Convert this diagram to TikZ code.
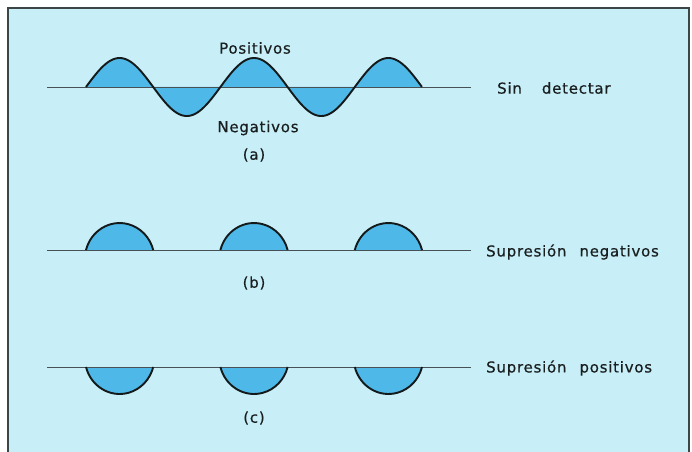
\documentclass[tikz,border=0pt]{standalone}
\usepackage{fontspec}
\setmainfont{DejaVu Sans}[LetterSpace=5,FakeBold=0.5]
\begin{document}
\begin{tikzpicture}[x=1pt,y=-1pt,
  bgcol/.style={fill={rgb,255:red,200;green,238;blue,248}},
  frameline/.style={draw={rgb,255:red,60;green,70;blue,70},line width=1.4pt},
  axisline/.style={draw={rgb,255:red,70;green,80;blue,85},line width=1pt},
  wavefill/.style={fill={rgb,255:red,78;green,184;blue,232}},
  waveline/.style={draw={rgb,255:red,20;green,25;blue,25},line width=1.9pt},
  lbl/.style={inner sep=0pt,text={rgb,255:red,25;green,30;blue,30},font=\fontsize{15}{17}\selectfont}]
\useasboundingbox (0,0) rectangle (692,451);
\begin{scope}
\clip (0,0) rectangle (692,451);
\fill[white] (0,0) rectangle (692,451);
\path[bgcol,frameline] (8,8) rectangle (689,470);
\end{scope}
% (a)
\coordinate (a0) at (47,87);
\coordinate (a1) at (471,87);
\fill[wavefill] plot[domain=0:5,samples=241] ({86+67.2*\x},{87-29*sin(180*\x)}) -- cycle;
\draw[axisline] (a0) -- (a1);
\draw[waveline,line join=round] plot[domain=0:5,samples=241] ({86+67.2*\x},{87-29*sin(180*\x)});
\node[lbl] (pos) at (255,48) {Positivos};
\node[lbl] (neg) at (258,128) {Negativos};
\node[lbl] (la) at (254,155) {(a)};
\node[lbl,anchor=west] (sd) at (497,88) {Sin\hspace{20pt}detectar};
% (b)  dome = ellipse arc cut above its centre
\coordinate (b0) at (47,250);
\coordinate (b1) at (471,250);
\foreach \c in {86,220.4,354.8}{
  \fill[wavefill] (\c,250) arc[start angle=195,end angle=345,x radius=34.8,y radius=36.4] -- cycle;
}
\draw[axisline] (b0) -- (b1);
\foreach \c in {86,220.4,354.8}{
  \draw[waveline] (\c,250) arc[start angle=195,end angle=345,x radius=34.8,y radius=36.4];
}
\node[lbl] (lb) at (254,283) {(b)};
\node[lbl,anchor=west] (sn) at (486,252) {Supresión\hspace{13pt}negativos};
% (c)
\coordinate (c0) at (47,367);
\coordinate (c1) at (471,367);
\foreach \c in {86,220.4,354.8}{
  \fill[wavefill] (\c,367) arc[start angle=165,end angle=15,x radius=34.8,y radius=36.4] -- cycle;
}
\draw[axisline] (c0) -- (c1);
\foreach \c in {86,220.4,354.8}{
  \draw[waveline] (\c,367) arc[start angle=165,end angle=15,x radius=34.8,y radius=36.4];
}
\node[lbl] (lc) at (254,418) {(c)};
\node[lbl,anchor=west] (sp) at (486,368) {Supresión\hspace{13pt}positivos};
\end{tikzpicture}
\end{document}
